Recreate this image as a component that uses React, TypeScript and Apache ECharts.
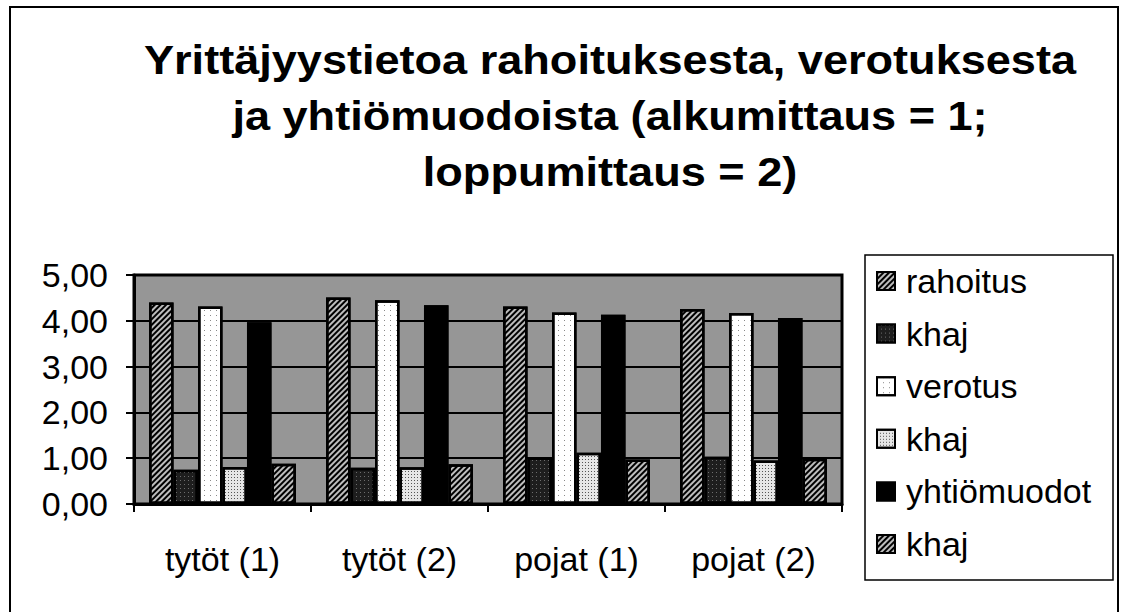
import React, { useEffect, useRef } from "react";
import * as echarts from "echarts";

const titleLines = [
  "Yrittäjyystietoa rahoituksesta, verotuksesta",
  "ja yhtiömuodoista (alkumittaus = 1;",
  "loppumittaus = 2)",
];
const categories = ["tytöt (1)", "tytöt (2)", "pojat (1)", "pojat (2)"];
const seriesNames = ["rahoitus", "khaj", "verotus", "khaj ", "yhtiömuodot", "khaj  "];
const rahoitus = [4.4, 4.51, 4.31, 4.26];
const khaj1 = [0.75, 0.79, 1.02, 1.03];
const verotus = [4.31, 4.45, 4.18, 4.17];
const khaj2 = [0.81, 0.8, 1.12, 0.95];
const yhtiomuodot = [3.97, 4.34, 4.13, 4.06];
const khaj3 = [0.88, 0.87, 0.97, 0.99];
const seriesValues = [rahoitus, khaj1, verotus, khaj2, yhtiomuodot, khaj3];
const seriesColors = ["#bdbdbd", "#1e1e1e", "#ffffff", "#e6e6e6", "#000000", "#bdbdbd"];
const yTicks = [0, 1, 2, 3, 4, 5];

const FONT = "'Liberation Sans', Arial, sans-serif";

export default function App() {
  const ref = useRef<HTMLDivElement>(null);
  useEffect(() => {
    if (!ref.current) return;
    const chart = echarts.init(ref.current, null, { renderer: "svg" });
    const hatch = {
      symbol: "rect",
      symbolSize: 1,
      color: "#000",
      dashArrayX: [1, 0],
      dashArrayY: [2, 1.6],
      rotation: -Math.PI / 4,
    };
    const decals: any[] = [
      hatch,
      { symbol: "rect", symbolSize: 1, color: "rgba(255,255,255,0.35)", dashArrayX: [1, 3], dashArrayY: [1, 3], rotation: 0 },
      { symbol: "rect", symbolSize: 1, color: "#8a8a8a", dashArrayX: [1, 5], dashArrayY: [1, 4], rotation: 0 },
      { symbol: "rect", symbolSize: 1, color: "#555555", dashArrayX: [1, 1.5], dashArrayY: [1, 1.5], rotation: 0 },
      { symbol: "rect", symbolSize: 1, color: "rgba(0,0,0,0)", dashArrayX: [1, 4], dashArrayY: [1, 4], rotation: 0 },
      hatch,
    ];
    const option: any = {
      animation: false,
      backgroundColor: "#ffffff",
      aria: { enabled: true, decal: { show: true } },
      textStyle: { fontFamily: FONT },
      grid: {
        left: 134,
        top: 275,
        width: 708,
        height: 229,
        show: true,
        backgroundColor: "#969696",
        borderColor: "#000",
        borderWidth: 3,
      },
      xAxis: {
        type: "category",
        data: categories,
        axisLine: { show: true, lineStyle: { color: "#000", width: 3 } },
        axisTick: { show: true, length: 8, lineStyle: { color: "#000", width: 2 } },
        axisLabel: { color: "#000", fontSize: 34, fontFamily: FONT, margin: 38 },
      },
      yAxis: {
        type: "value",
        min: yTicks[0],
        max: yTicks[yTicks.length - 1],
        interval: 1,
        axisLine: { show: true, lineStyle: { color: "#000", width: 3 } },
        axisTick: { show: true, length: 8, lineStyle: { color: "#000", width: 2 } },
        axisLabel: {
          color: "#000",
          fontSize: 34,
          fontFamily: FONT,
          margin: 26,
          formatter: (v: number) => v.toFixed(2).replace(".", ","),
        },
        splitLine: { show: true, lineStyle: { color: "#000", width: 2 } },
      },
      legend: {
        orient: "vertical",
        left: 876,
        top: 264,
        padding: 0,
        itemGap: 18.6,
        itemWidth: 18,
        itemHeight: 18,
        icon: "rect",
        data: seriesNames,
        formatter: (n: string) => n.trim(),
        itemStyle: { borderColor: "#000", borderWidth: 2 },
        textStyle: { color: "#000", fontSize: 34, lineHeight: 34, fontFamily: FONT, padding: [0, 0, 0, 6] },
      },
      series: seriesNames.map((name, i) => ({
        name,
        type: "bar",
        data: seriesValues[i],
        barGap: "0%",
        barCategoryGap: "17%",
        itemStyle: {
          color: seriesColors[i],
          borderColor: "#000",
          borderWidth: 2.5,
          decal: decals[i],
        },
      })),
      graphic: [
        {
          type: "rect",
          shape: { x: 10, y: 7, width: 1108, height: 640 },
          style: { fill: "none", stroke: "#000", lineWidth: 2 },
          silent: true,
        },
        {
          type: "rect",
          shape: { x: 865, y: 255, width: 248, height: 325 },
          style: { fill: "none", stroke: "#000", lineWidth: 1.5 },
          silent: true,
        },
        ...titleLines.map((t, i) => ({
          type: "text",
          x: 610,
          y: 60 + i * 56,
          scaleX: 1.1,
          style: {
            text: t,
            fill: "#000",
            font: `bold 41px ${FONT}`,
            textAlign: "center",
            textVerticalAlign: "middle",
            verticalAlign: "middle",
          },
        })),
      ],
    };
    chart.setOption(option);
    return () => chart.dispose();
  }, []);
  return (
    <div
      ref={ref}
      style={{ position: "fixed", left: 0, top: 0, width: 1121, height: 612, background: "#fff" }}
    />
  );
}
